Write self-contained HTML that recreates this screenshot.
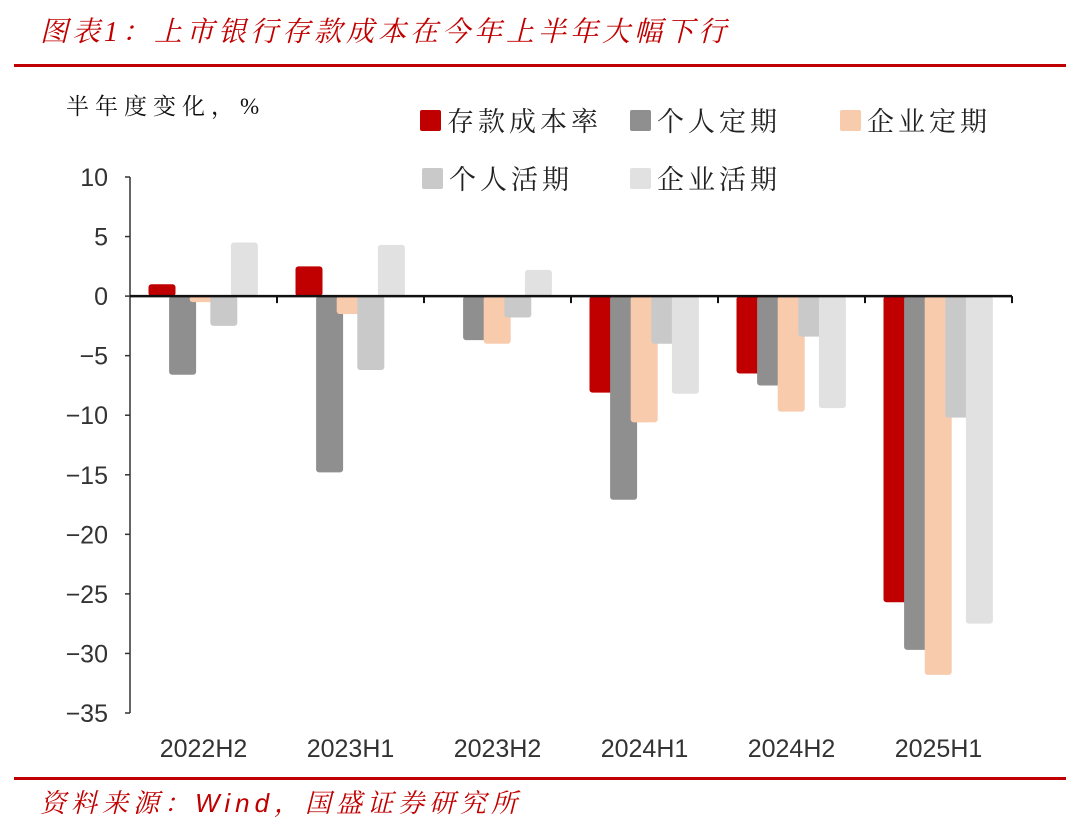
<!DOCTYPE html>
<html><head><meta charset="utf-8">
<style>
body{margin:0;background:#fff;width:1080px;height:826px;overflow:hidden;font-family:"Liberation Sans","Noto Sans CJK SC",sans-serif;}
svg text{font-family:"Liberation Sans","Noto Sans CJK SC",sans-serif;}
</style></head><body>
<svg id="chart" width="1080" height="826">
<text x="40" y="41" fill="#C00000" font-size="28" font-style="italic" letter-spacing="4" style="font-family:'Liberation Serif','Noto Serif CJK SC',serif">图表1：上市银行存款成本在今年上半年大幅下行</text>
<rect x="14" y="64" width="1052" height="3" fill="#C00000"/>
<text x="66" y="114" fill="#111" font-size="23" letter-spacing="6" style="font-family:'Liberation Serif','Noto Serif CJK SC',serif">半年度变化，%</text>
<g id="legend"></g>
<g id="plot"></g>
<rect x="14" y="777" width="1052" height="3" fill="#C00000"/>
<text x="40" y="812" fill="#C00000" font-size="26" font-style="italic" letter-spacing="5" style="font-family:'Liberation Serif','Noto Serif CJK SC',serif">资料来源：<tspan style="font-family:'Liberation Sans',sans-serif">Wind</tspan>，国盛证券研究所</text>
</svg>
<script>
const categories=["2022H2","2023H1","2023H2","2024H1","2024H2","2025H1"];
const seriesNames=["存款成本率","个人定期","企业定期","个人活期","企业活期"];
const depositCost=[1.0,2.5,0,-8.1,-6.5,-25.7];
const personalTime=[-6.6,-14.8,-3.7,-17.1,-7.5,-29.7];
const corpTime=[-0.5,-1.5,-4.0,-10.6,-9.7,-31.8];
const personalDemand=[-2.5,-6.2,-1.8,-4.0,-3.4,-10.2];
const corpDemand=[4.5,4.3,2.2,-8.2,-9.4,-27.5];
const yTicks=[10,5,0,-5,-10,-15,-20,-25,-30,-35];
const colors=["#C00000","#8F8F8F","#F8CBAD","#C9C9C9","#E1E1E1"];
const series=[depositCost,personalTime,corpTime,personalDemand,corpDemand];
const NS="http://www.w3.org/2000/svg";
const plot=document.getElementById('plot'),legend=document.getElementById('legend');
const x0=130,x1=1012,yTop=177,yBot=713,vMax=10,vMin=-35;
const y=v=>yTop+(vMax-v)/(vMax-vMin)*(yBot-yTop);
const gw=(x1-x0)/categories.length;
const xc=i=>x0+gw*(i+0.5);
function mk(tag,attrs,parent){const e=document.createElementNS(NS,tag);for(const k in attrs)e.setAttribute(k,attrs[k]);parent.appendChild(e);return e;}
let ax=mk('line',{x1:x0,x2:x0,y1:yTop,y2:yBot,stroke:'#333','stroke-width':1.5},plot);


yTicks.forEach(t=>{
 const tk=mk('line',{x1:x0-5,x2:x0,y1:y(t),y2:y(t),stroke:'#333','stroke-width':1.5},plot);
 
 
 const tl=mk('text',{x:x0-22,y:y(t)+9,'text-anchor':'end','font-size':25,fill:'#333'},plot);
 tl.textContent=t<0?'\u2212'+Math.abs(t):String(t);
 
 
});
const bw=27,pitch=20.6;
categories.forEach((c,i)=>{
 series.forEach((s,j)=>{
  const v=s[i];
  if(v===0)return;
  const bx=xc(i)-55+j*pitch;
  const top=Math.min(y(v),y(0)),h=Math.max(Math.abs(y(v)-y(0)),2);
  const r=mk('rect',{x:bx,y:top,width:bw,height:h,rx:3,fill:colors[j]},plot);
  
  
 });
 const lb=mk('text',{x:xc(i),y:757,'text-anchor':'middle','font-size':25,fill:'#333'},plot);
 lb.textContent=c;
 
 
 const tk=mk('line',{x1:x0+gw*(i+1),x2:x0+gw*(i+1),y1:y(0),y2:y(0)+7,stroke:'#111','stroke-width':2},plot);
 
 
});
const xa=mk('line',{x1:x0,x2:x1,y1:y(0),y2:y(0),stroke:'#111','stroke-width':2.5},plot);


const lpos=[[420,121],[630,121],[840,121],[422,179],[630,179]];
seriesNames.forEach((n,j)=>{
 const g=mk('g',{},legend);
 
 
 mk('rect',{x:lpos[j][0],y:lpos[j][1]-11,width:21,height:21,rx:2,fill:colors[j]},g);
 const t=mk('text',{x:lpos[j][0]+27,y:lpos[j][1]+10,'font-size':27,fill:'#222','letter-spacing':4,style:"font-family:'Liberation Serif','Noto Serif CJK SC',serif"},g);
 t.textContent=n;
});
</script>
</body></html>
